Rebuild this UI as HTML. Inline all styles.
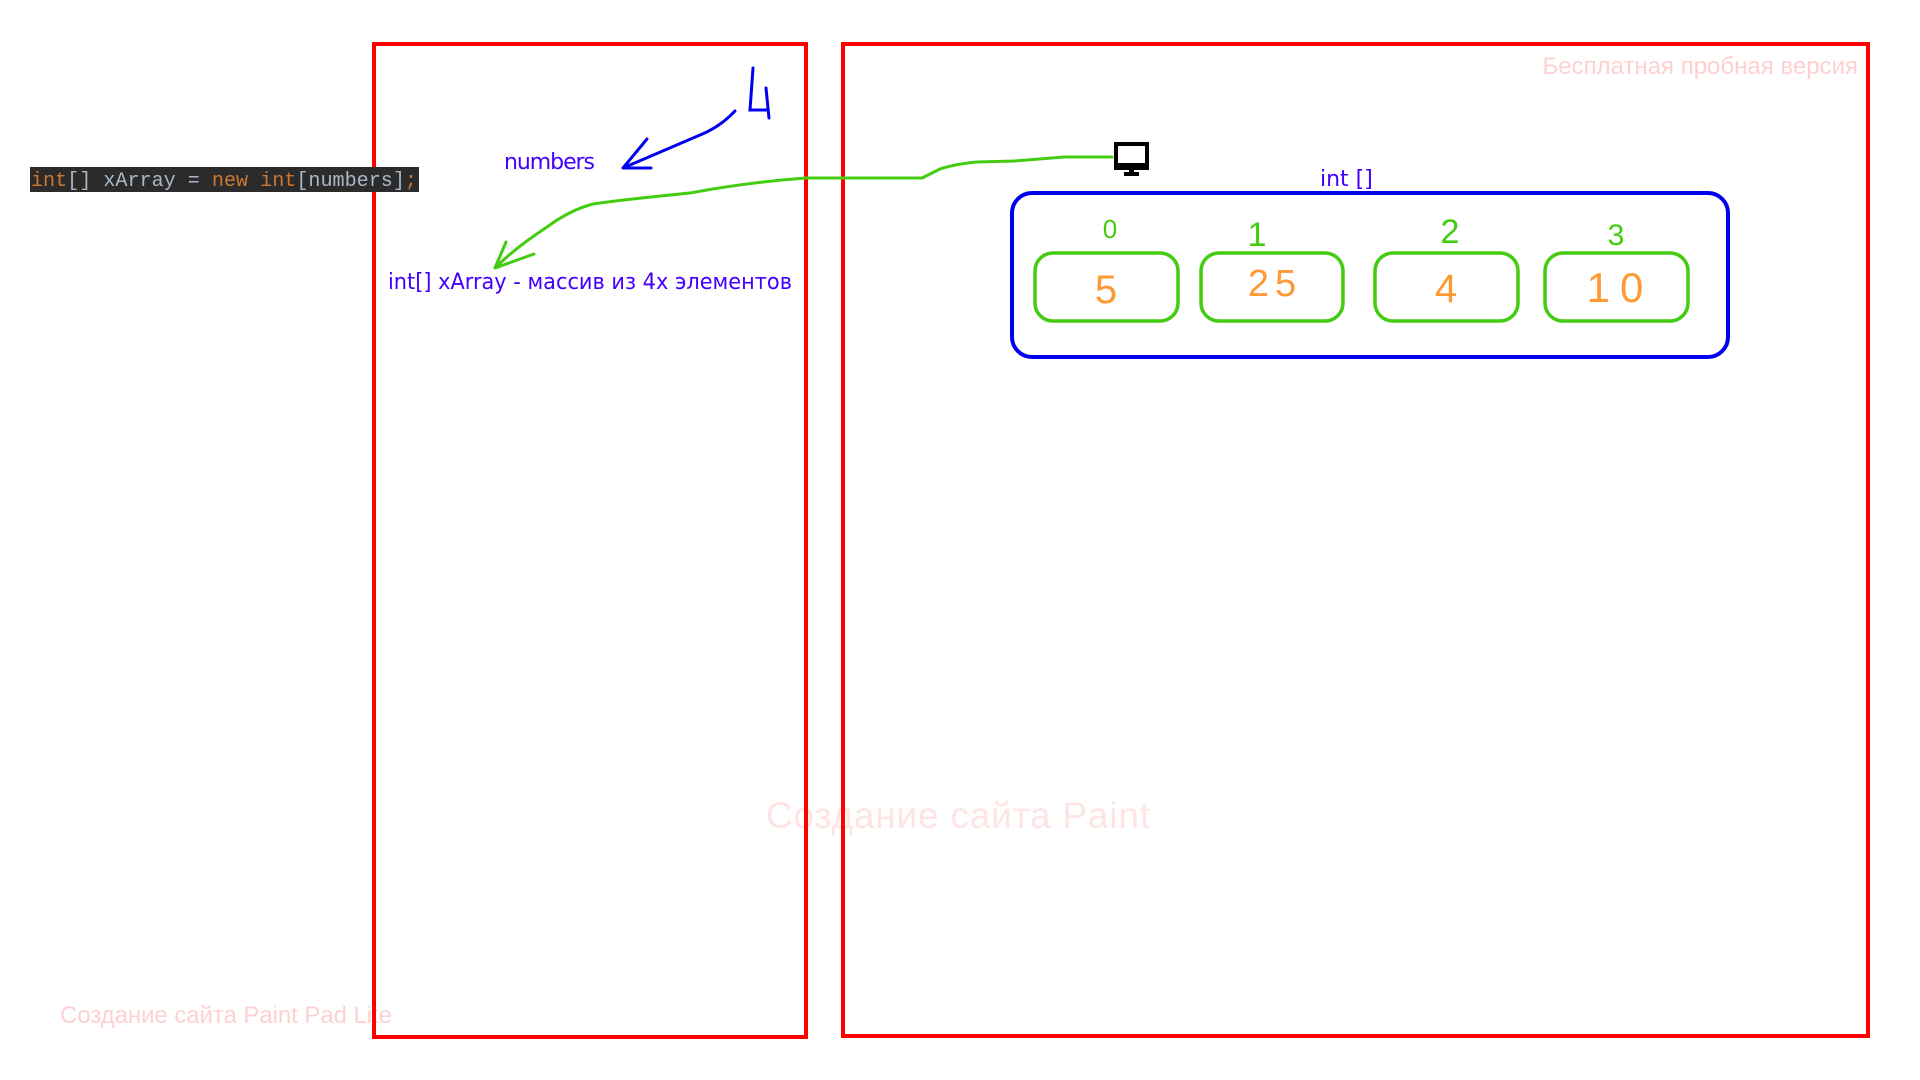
<!DOCTYPE html>
<html><head><meta charset="utf-8"><style>
html,body{margin:0;padding:0;background:#fff;width:1920px;height:1080px;overflow:hidden}
svg{display:block}
</style></head><body>
<svg width="1920" height="1080" viewBox="0 0 1920 1080" xmlns="http://www.w3.org/2000/svg">
  <text x="1858" y="74" text-anchor="end" font-family="Liberation Sans, sans-serif" font-size="24" fill="#ffd0d0">Бесплатная пробная версия</text>
  <text x="958" y="828" text-anchor="middle" font-family="Liberation Sans, sans-serif" font-size="37" fill="#ffe4e4" textLength="384">Создание сайта Paint</text>
  <text x="60" y="1023" font-family="Liberation Sans, sans-serif" font-size="24" fill="#ffd0d0" textLength="332">Создание сайта Paint Pad Lite</text>

  <rect x="374" y="44" width="432" height="993" fill="none" stroke="#ff0000" stroke-width="4"/>
  <rect x="843" y="44" width="1025" height="992" fill="none" stroke="#ff0000" stroke-width="4"/>

  <rect x="30" y="167" width="389" height="25" fill="#2b2b2b"/>
  <text x="31" y="186" font-family="Liberation Mono, monospace" font-size="20" fill="#a9b7c6" textLength="386" lengthAdjust="spacingAndGlyphs"><tspan fill="#cc7832">int</tspan>[] xArray = <tspan fill="#cc7832">new int</tspan>[numbers]<tspan fill="#cc7832">;</tspan></text>

  <text x="504" y="169" font-family="DejaVu Sans, sans-serif" font-size="22" fill="#4400ff" textLength="91">numbers</text>
  <text x="388" y="289" font-family="DejaVu Sans, sans-serif" font-size="22" fill="#4400ff" textLength="404" lengthAdjust="spacingAndGlyphs">int[] xArray - массив из 4х элементов</text>
  <text x="1320" y="186" font-family="DejaVu Sans, sans-serif" font-size="22" fill="#4400ff">int []</text>

  <path d="M753 68 L750 110 L767 110 M766 88 L769 118" fill="none" stroke="#0000ee" stroke-width="3" stroke-linecap="round"/>
  <path d="M735 111 Q720 127 700 135 Q663 151 623 168 M647 139 L623 168 L651 168" fill="none" stroke="#0000ee" stroke-width="3" stroke-linecap="round" stroke-linejoin="round"/>

  <path d="M1112 157 L1064 157 Q1040 159 1014 161 L977 162 Q955 164 940 169 Q930 174 922 178 L806 178 Q750 182 690 193 Q620 200 593 204 Q570 210 547 227 Q515 248 495 268 M506 242 L495 268 L534 254" fill="none" stroke="#44cc11" stroke-width="3" stroke-linecap="round" stroke-linejoin="round"/>

  <g>
    <rect x="1116" y="144" width="31" height="24" fill="#fff" stroke="#000" stroke-width="4"/>
    <rect x="1114" y="163" width="35" height="6" fill="#000"/>
    <rect x="1129" y="169" width="5" height="4" fill="#000"/>
    <rect x="1124" y="172" width="15" height="4" fill="#000"/>
  </g>

  <rect x="1012" y="193" width="716" height="164" rx="20" fill="none" stroke="#0000ee" stroke-width="4"/>

  <g>
    <rect x="1035" y="253" width="143" height="68" rx="18" fill="none" stroke="#44cc11" stroke-width="3.5"/>
    <text x="1110" y="238" text-anchor="middle" font-family="Liberation Sans, sans-serif" font-size="26" fill="#44cc11">0</text>
    <text x="1106" y="303" text-anchor="middle" font-family="Liberation Sans, sans-serif" font-size="40" fill="#ff9933">5</text>
  </g>
  <g>
    <rect x="1201" y="253" width="142" height="68" rx="18" fill="none" stroke="#44cc11" stroke-width="3.5"/>
    <text x="1257" y="246" text-anchor="middle" font-family="Liberation Sans, sans-serif" font-size="34" fill="#44cc11">1</text>
    <text x="1275" y="296" text-anchor="middle" font-family="Liberation Sans, sans-serif" font-size="38" fill="#ff9933" letter-spacing="6">25</text>
  </g>
  <g>
    <rect x="1375" y="253" width="143" height="68" rx="18" fill="none" stroke="#44cc11" stroke-width="3.5"/>
    <text x="1450" y="243" text-anchor="middle" font-family="Liberation Sans, sans-serif" font-size="34" fill="#44cc11">2</text>
    <text x="1446" y="302" text-anchor="middle" font-family="Liberation Sans, sans-serif" font-size="40" fill="#ff9933">4</text>
  </g>
  <g>
    <rect x="1545" y="253" width="143" height="68" rx="18" fill="none" stroke="#44cc11" stroke-width="3.5"/>
    <text x="1616" y="245" text-anchor="middle" font-family="Liberation Sans, sans-serif" font-size="30" fill="#44cc11">3</text>
    <text x="1620" y="302" text-anchor="middle" font-family="Liberation Sans, sans-serif" font-size="42" fill="#ff9933" letter-spacing="10">10</text>
  </g>
</svg>
</body></html>
